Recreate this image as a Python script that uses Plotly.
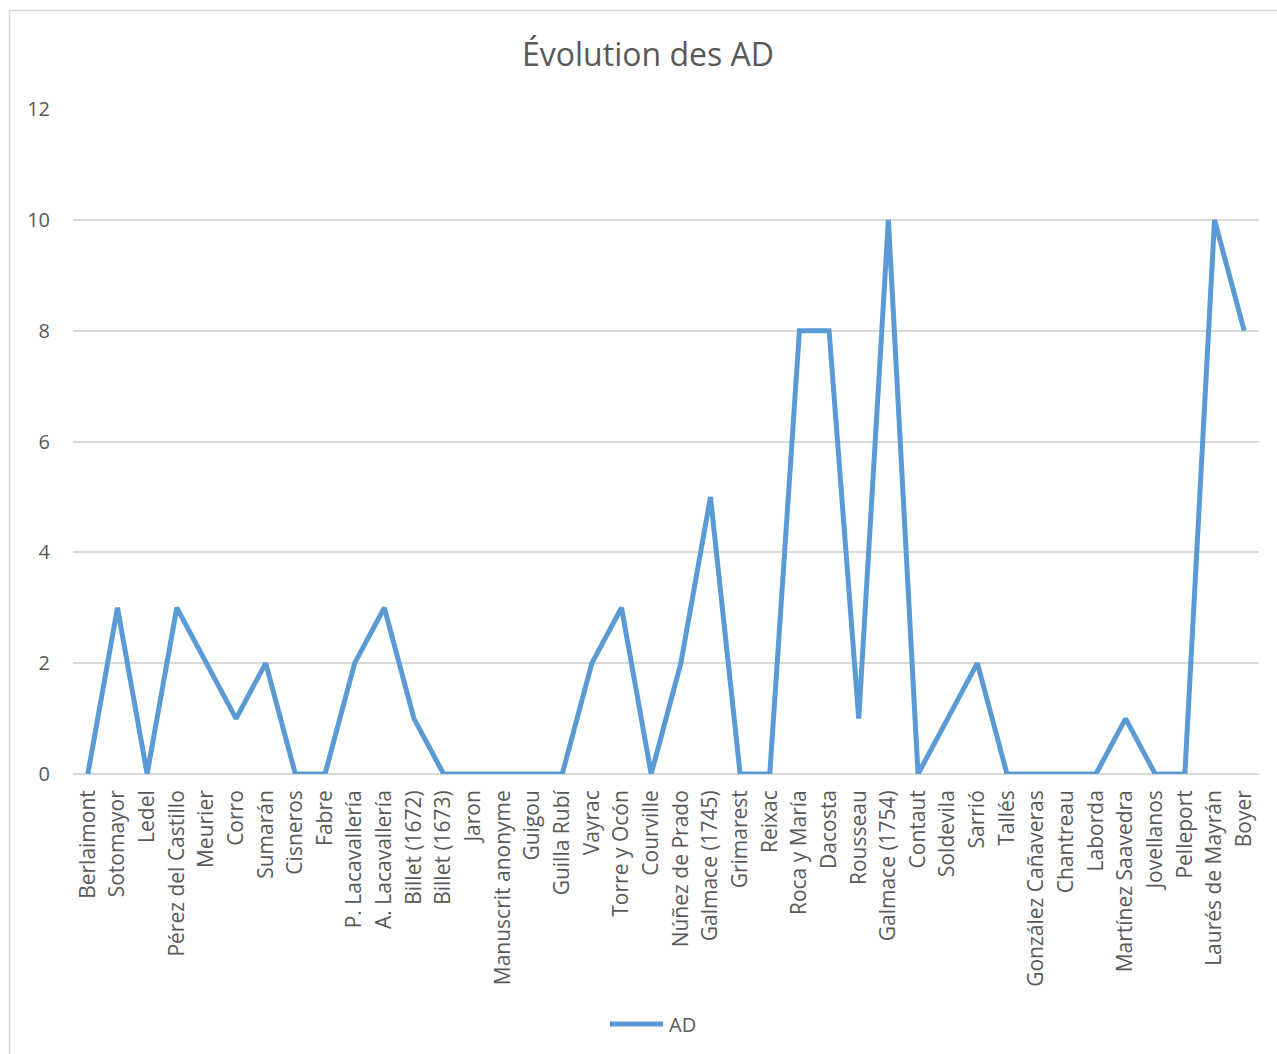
import plotly.graph_objects as go

# Authors / treatises along the x axis
categories = [
    "Berlaimont", "Sotomayor", "Ledel", "Pérez del Castillo", "Meurier", "Corro",
    "Sumarán", "Cisneros", "Fabre", "P. Lacavallería", "A. Lacavallería",
    "Billet (1672)", "Billet (1673)", "Jaron", "Manuscrit anonyme", "Guigou",
    "Guilla Rubí", "Vayrac", "Torre y Ocón", "Courville", "Núñez de Prado",
    "Galmace (1745)", "Grimarest", "Reixac", "Roca y María", "Dacosta",
    "Rousseau", "Galmace (1754)", "Contaut", "Soldevila", "Sarrió", "Tallés",
    "González Cañaveras", "Chantreau", "Laborda", "Martínez Saavedra",
    "Jovellanos", "Pelleport", "Laurés de Mayrán", "Boyer",
]

# AD counts per work
ad_values = [
    0, 3, 0, 3, 2, 1, 2, 0, 0, 2, 3, 1, 0, 0, 0, 0, 0, 2, 3, 0,
    2, 5, 0, 0, 8, 8, 1, 10, 0, 1, 2, 0, 0, 0, 0, 1, 0, 0, 10, 8,
]

y_ticks = [0, 2, 4, 6, 8, 10, 12]

series_name = "AD"
line_color = "#5B9BD5"

W, H = 1277, 1054
ML, MR, MT, MB = 73, 18, 109, 280
PW, PH = W - ML - MR, H - MT - MB

def px_x(p):
    return (p - ML) / PW

def px_y(p):
    return (H - MB - p) / PH

text_color = "#595959"
font_family = "Open Sans, Liberation Sans, sans-serif"

fig = go.Figure()
fig.add_trace(go.Scatter(
    x=categories,
    y=ad_values,
    mode="lines",
    name=series_name,
    line=dict(color=line_color, width=5),
    showlegend=False,
))

# Legend key drawn below the plot: a line sample followed by the series name
legend_y = px_y(1024)
shapes = [
    dict(
        type="rect", xref="paper", yref="paper",
        x0=px_x(9.5), x1=px_x(1290), y0=px_y(1070), y1=px_y(10.5),
        line=dict(color="#D9D9D9", width=1.5),
        fillcolor="rgba(0,0,0,0)", layer="below",
    ),
    dict(
        type="line", xref="paper", yref="paper",
        x0=px_x(610), x1=px_x(663), y0=legend_y, y1=legend_y,
        line=dict(color=line_color, width=5),
    ),
]
annotations = [
    dict(
        text=series_name, xref="paper", yref="paper",
        x=px_x(667), y=legend_y, xanchor="left", yanchor="middle",
        showarrow=False,
        font=dict(family=font_family, size=20, color=text_color),
    )
]

fig.update_layout(
    width=W,
    height=H,
    margin=dict(l=ML, r=MR, t=MT, b=MB),
    paper_bgcolor="white",
    plot_bgcolor="white",
    showlegend=False,
    title=dict(
        text="Évolution des AD",
        x=648 / W,
        xanchor="center",
        y=1 - 55 / H,
        yanchor="middle",
        font=dict(family=font_family, size=32, color=text_color),
    ),
    xaxis=dict(
        type="category",
        range=[-0.5, len(categories) - 0.5],
        tickangle=-90,
        tickfont=dict(family=font_family, size=21, color=text_color),
        showgrid=False,
        showline=False,
        zeroline=False,
        ticks="",
        ticklabelstandoff=11,
    ),
    yaxis=dict(
        range=[0, 12],
        tickvals=y_ticks,
        tickfont=dict(family=font_family, size=20, color=text_color),
        showgrid=True,
        gridcolor="#D9D9D9",
        gridwidth=1.5,
        zeroline=True,
        zerolinecolor="#D9D9D9",
        zerolinewidth=1.5,
        showline=False,
        ticks="",
        ticklabelstandoff=22,
    ),
    shapes=shapes,
    annotations=annotations,
)

fig.write_html("out.html")
